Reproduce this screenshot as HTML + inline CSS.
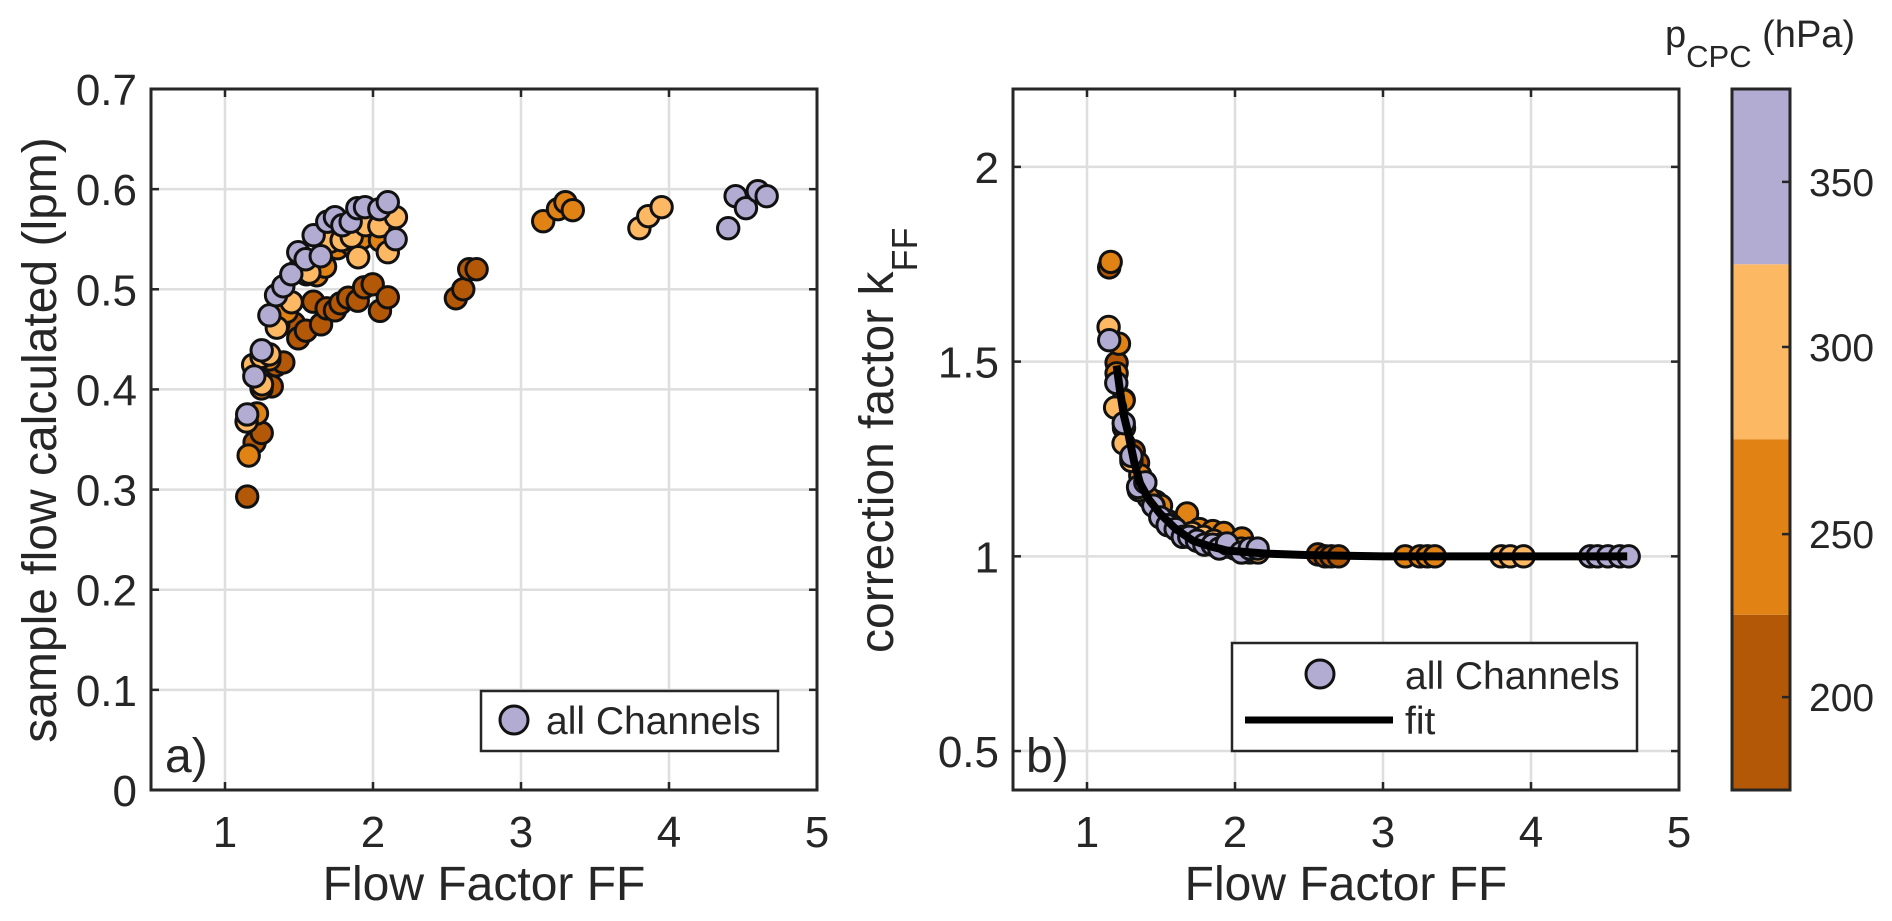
<!DOCTYPE html>
<html><head><meta charset="utf-8">
<style>
html,body{margin:0;padding:0;background:#fff;width:1892px;height:921px;overflow:hidden}
svg{display:block}
text{font-family:"Liberation Sans",sans-serif;fill:#262626}
</style></head>
<body>
<svg id="fig" width="1892" height="921" viewBox="0 0 1892 921" xmlns="http://www.w3.org/2000/svg"></svg>
<script>
const xTicks=[1,2,3,4,5];
const flowTicks=[0,0.1,0.2,0.3,0.4,0.5,0.6,0.7];
const kTicks=[0.5,1,1.5,2];
const cbLabels=['200','250','300','350'];
const cbTickLevels=[201.5,248,301.4,348.5];
const cbEdges=[175,225,275,325,375];
const seriesNames=['p200','p250','p300','p350'];
const seriesColors=['#b35806','#e08214','#fdb863','#b2abd2'];

const ff200=[1.15,1.2,1.248,1.316,1.345,1.394,1.466,1.495,1.547,1.597,1.649,1.687,1.743,1.78,1.833,1.897,1.94,1.998,2.047,2.1,2.56,2.61,2.65,2.7];
const flow200=[.293,.347,.3565,.403,.424,.427,.466,.451,.4587,.4876,.465,.481,.479,.486,.4916,.4886,.502,.505,.4785,.492,.491,.5,.52,.52];
const k200=[1.742,1.497,1.402,1.27,1.24,1.19,1.14,1.12,1.09,1.08,1.07,1.06,1.05,1.045,1.04,1.035,1.03,1.02,1.01,1.02,1.005,1.0,1.0,1.0];

const ff250=[1.16,1.216,1.2,1.247,1.3,1.36,1.417,1.5,1.55,1.62,1.676,1.76,1.85,1.924,2.047,3.15,3.25,3.3,3.35];
const flow250=[.334,.376,.42,.401,.43,.465,.4776,.52,.515,.514,.5226,.541,.545,.551,.549,.568,.58,.587,.579];
const k250=[1.756,1.546,1.47,1.4,1.2525,1.208,1.15,1.13,1.09,1.08,1.11,1.07,1.065,1.06,1.046,1.0,1.0,1.0,1.0];

const ff300=[1.146,1.19,1.25,1.247,1.3,1.35,1.45,1.57,1.71,1.788,1.856,1.9,1.95,2.043,2.1,2.155,3.8,3.86,3.95];
const flow300=[.368,.4245,.405,.4325,.435,.4617,.487,.5166,.5475,.549,.5525,.532,.564,.563,.537,.572,.561,.573,.582];
const k300=[1.589,1.382,1.33,1.29,1.245,1.17,1.13,1.08,1.06,1.05,1.04,1.03,1.025,1.02,1.01,1.01,1.0,1.0,1.0];

const ff350=[1.15,1.198,1.248,1.3,1.345,1.394,1.448,1.495,1.545,1.599,1.647,1.691,1.743,1.793,1.849,1.894,1.946,2.043,2.1,2.153,4.4,4.45,4.52,4.6,4.66];
const flow350=[.375,.413,.439,.474,.494,.503,.515,.537,.53,.554,.533,.5675,.572,.564,.5675,.581,.582,.58,.587,.55,.561,.593,.581,.598,.593];
const k350=[1.555,1.445,1.342,1.258,1.178,1.19,1.13,1.1,1.08,1.07,1.05,1.05,1.04,1.03,1.03,1.02,1.033,1.01,1.02,1.02,1.0,1.0,1.0,1.0,1.0];

const fitFF=[1.2,1.225,1.25,1.278,1.32,1.358,1.42,1.493,1.6,1.716,1.82,1.945,2.21,2.5,3,4,4.65];
const fitK=[1.49,1.42,1.36,1.317,1.24,1.188,1.145,1.11,1.07,1.04,1.027,1.015,1.007,1.003,1,1,1];

const NS='http://www.w3.org/2000/svg';
const fig=document.getElementById('fig');
function mk(tag,attrs,parent){
  const e=document.createElementNS(NS,tag);
  for(const k in attrs)e.setAttribute(k,attrs[k]);
  (parent||fig).appendChild(e);
  return e;
}
const TICK=44,T0=89,B0=790;
const xA=v=>151+(v-0.5)*148;
const yA=v=>B0-v*(B0-T0)/0.7;
const xB=v=>1013+(v-0.5)*148;
const yB=v=>B0-(v-0.4)*(B0-T0)/1.8;
const yC=v=>B0-(v-175)*(B0-T0)/200;

function drawAxes(name,L,R,T,B,sx,sy,yt,yl){
  const g=mk('g',{});
  
  
  xTicks.forEach(t=>{
    if(t<5){const l=mk('line',{x1:sx(t),x2:sx(t),y1:T,y2:B,stroke:'#dedede','stroke-width':2.5},g);
    
    }
    const a=mk('line',{x1:sx(t),x2:sx(t),y1:B,y2:B-8,stroke:'#262626','stroke-width':2.5},g);
    
    
    const b=mk('line',{x1:sx(t),x2:sx(t),y1:T,y2:T+8,stroke:'#262626','stroke-width':2.5},g);
    
    
    const tx=mk('text',{x:sx(t),y:B+57,'font-size':TICK,'text-anchor':'middle'},g);
    tx.textContent=t;
    
    
  });
  yt.forEach(t=>{
    if(sy(t)>T+1&&sy(t)<B-1){const l=mk('line',{x1:L,x2:R,y1:sy(t),y2:sy(t),stroke:'#dedede','stroke-width':2.5},g);
    
    }
    const a=mk('line',{x1:L,x2:L+8,y1:sy(t),y2:sy(t),stroke:'#262626','stroke-width':2.5},g);
    
    
    const b=mk('line',{x1:R,x2:R-8,y1:sy(t),y2:sy(t),stroke:'#262626','stroke-width':2.5},g);
    
    
    const tx=mk('text',{x:L-14,y:sy(t)+16,'font-size':TICK,'text-anchor':'end'},g);
    tx.textContent=yl(t);
    
    
  });
  const box=mk('rect',{x:L,y:T,width:R-L,height:B-T,fill:'none',stroke:'#262626','stroke-width':3},g);
  
  
}
function drawSeries(name,xs,ys,color,sx,sy){
  const g=mk('g',{});
  
  
  xs.forEach((x,i)=>{
    const c=mk('circle',{cx:sx(x),cy:sy(ys[i]),r:10.7,fill:color,stroke:'#111','stroke-width':3},g);
    
    
  });
}
drawAxes('panel-a',151,817,T0,B0,xA,yA,flowTicks,t=>t===0?'0':t.toFixed(1));
drawAxes('panel-b',1013,1679,T0,B0,xB,yB,kTicks,t=>String(t));

const allFF=[ff200,ff250,ff300,ff350];
const allFlow=[flow200,flow250,flow300,flow350];
const allK=[k200,k250,k300,k350];
seriesNames.forEach((n,i)=>drawSeries('flow-series-'+n,allFF[i],allFlow[i],seriesColors[i],xA,yA));
seriesNames.forEach((n,i)=>drawSeries('kff-series-'+n,allFF[i],allK[i],seriesColors[i],xB,yB));
const fitLine=mk('polyline',{points:fitFF.map((x,i)=>xB(x)+','+yB(fitK[i])).join(' '),fill:'none',stroke:'#000','stroke-width':8,'stroke-linejoin':'round'});



cbEdges.slice(0,-1).forEach((e,i)=>{
  const r=mk('rect',{x:1732,y:yC(cbEdges[i+1]),width:58,height:yC(e)-yC(cbEdges[i+1]),fill:seriesColors[i]});
  
  
});
const cbFrame=mk('rect',{x:1732,y:T0,width:58,height:B0-T0,fill:'none',stroke:'#262626','stroke-width':3});


cbTickLevels.forEach((t,i)=>{
  const a=mk('line',{x1:1782,x2:1790,y1:yC(t),y2:yC(t),stroke:'#262626','stroke-width':2.5});
  
  
  const tx=mk('text',{x:1809,y:yC(t)+14,'font-size':39});
  tx.textContent=cbLabels[i];
  
  
});
</script>
<script>
(function(){
const svg=document.getElementById('fig');
svg.insertAdjacentHTML('beforeend',`
<text x="484" y="900" font-size="48" text-anchor="middle">Flow Factor FF</text>
<text x="1346" y="900" font-size="48" text-anchor="middle">Flow Factor FF</text>
<text transform="translate(56,440) rotate(-90)" font-size="48" text-anchor="middle">sample flow calculated (lpm)</text>
<text transform="translate(893,653) rotate(-90)" font-size="48">correction factor k<tspan font-size="36" dy="24">FF</tspan></text>
<text x="165" y="772" font-size="48">a)</text>
<text x="1026" y="772" font-size="48">b)</text>
<g>
<rect x="481" y="691" width="297" height="60" fill="#fff" stroke="#262626" stroke-width="2.5"/>
<circle cx="514" cy="720" r="14" fill="#b2abd2" stroke="#111" stroke-width="3"/>
<text x="546" y="734" font-size="39">all Channels</text>
</g>
<g>
<rect x="1232" y="643" width="405" height="108" fill="#fff" stroke="#262626" stroke-width="2.5"/>
<circle cx="1320" cy="674" r="14" fill="#b2abd2" stroke="#111" stroke-width="3"/>
<text x="1405" y="689" font-size="39">all Channels</text>
<line x1="1245" x2="1393" y1="720" y2="720" stroke="#000" stroke-width="7"/>
<text x="1405" y="734" font-size="39">fit</text>
</g>
<text x="1665" y="47" font-size="38">p<tspan font-size="31" dy="20">CPC</tspan><tspan dy="-20"> (hPa)</tspan></text>
`);
})();
</script>
</body></html>
